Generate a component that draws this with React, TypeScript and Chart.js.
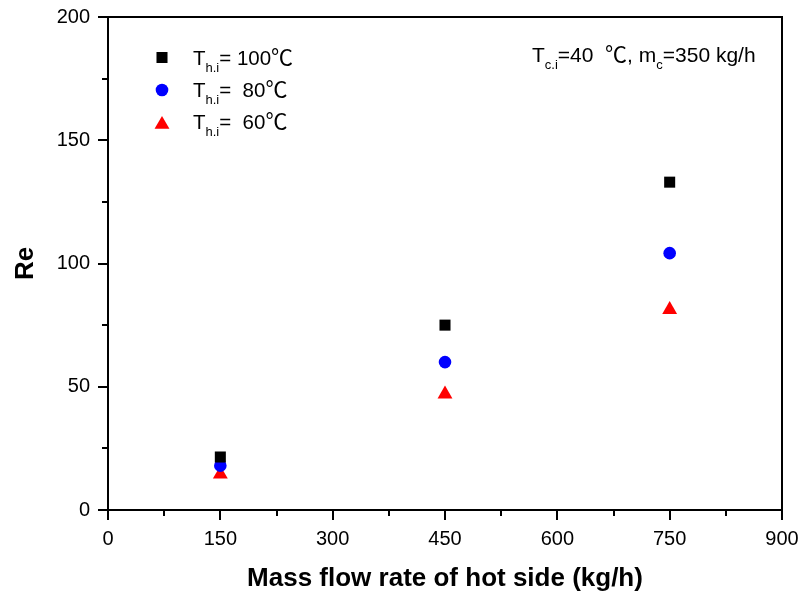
import React, { useEffect, useRef } from 'react';
import { Chart, registerables } from 'chart.js';
import { drawPoint } from 'chart.js/helpers';

Chart.register(...registerables);

// ---- data ----
const flowRates = [150, 450, 750];
const re100 = [21.5, 75, 133];
const re80 = [18, 60, 104.2];
const re60 = [14.5, 47, 81.3];

const seriesLabels = ['100', ' 80', ' 60'];
const xMinorTicks = [75, 225, 375, 525, 675, 825];
const yMinorTicks = [25, 75, 125, 175];

const LATIN = '"Liberation Sans", Arial, Helvetica, sans-serif';
const CJK = '"Noto Sans CJK SC", "DejaVu Sans", sans-serif';

type Part = { t: string; sub?: boolean; cjk?: boolean };

function drawRich(ctx: CanvasRenderingContext2D, x: number, y: number, parts: Part[], size: number, subSize: number, subDy: number, cjkSize: number) {
  let cx = x;
  ctx.textBaseline = 'alphabetic';
  ctx.textAlign = 'left';
  for (const p of parts) {
    const fam = p.cjk ? CJK : LATIN;
    const sz = p.sub ? subSize : p.cjk ? cjkSize : size;
    ctx.font = `${sz}px ${fam}`;
    ctx.fillText(p.t, cx, p.sub ? y + subDy : y);
    cx += ctx.measureText(p.t).width;
  }
}

const decorPlugin = {
  id: 'decor',
  afterDraw(chart: any) {
    const { ctx, chartArea, scales } = chart;
    const { left, right, top, bottom } = chartArea;
    const xs = scales.x;
    const ys = scales.y;
    ctx.save();
    ctx.strokeStyle = '#000';
    ctx.lineWidth = 2;
    ctx.beginPath();
    ctx.moveTo(left - 1, top);
    ctx.lineTo(right, top);
    ctx.lineTo(right, bottom + 1);
    ctx.stroke();

    ctx.beginPath();
    for (const v of xMinorTicks) {
      const px = Math.round(xs.getPixelForValue(v));
      ctx.moveTo(px, bottom);
      ctx.lineTo(px, bottom + 6);
    }
    for (const v of yMinorTicks) {
      const py = Math.round(ys.getPixelForValue(v));
      ctx.moveTo(left, py);
      ctx.lineTo(left - 6, py);
    }
    ctx.stroke();

    // legend
    const ds = chart.data.datasets;
    const rowBase = [65, 97, 129];
    const markerY = [57.5, 90, 124.5];
    for (let i = 0; i < ds.length; i++) {
      const d = ds[i];
      ctx.fillStyle = d.backgroundColor;
      ctx.strokeStyle = d.backgroundColor;
      drawPoint(ctx, { pointStyle: d.pointStyle, radius: d.pointRadius, rotation: 0, borderWidth: 0 } as any, 162, markerY[i]);
      ctx.fillStyle = '#000';
      drawRich(ctx, 193, rowBase[i], [
        { t: 'T' },
        { t: 'h.i', sub: true },
        { t: '= ' + seriesLabels[i] },
        { t: '℃', cjk: true },
      ], 20.5, 13, 7, 22);
    }

    // annotation
    ctx.fillStyle = '#000';
    drawRich(ctx, 532, 61.5, [
      { t: 'T' },
      { t: 'c.i', sub: true },
      { t: '=40  ' },
      { t: '℃', cjk: true },
      { t: ', m' },
      { t: 'c', sub: true },
      { t: '=350 kg/h' },
    ], 21, 13, 7, 22);
    ctx.restore();
  },
};

export default function App() {
  const ref = useRef<HTMLCanvasElement | null>(null);
  useEffect(() => {
    if (!ref.current) return;
    Chart.defaults.font.family = LATIN;
    const mk = (vals: number[]) => vals.map((v, i) => ({ x: flowRates[i], y: v }));
    const chart = new Chart(ref.current, {
      type: 'scatter',
      data: {
        datasets: [
          { label: 'Th.i=100℃', data: mk(re100), pointStyle: 'rect', pointRadius: 7.8, backgroundColor: '#000000', borderColor: '#000000', borderWidth: 0 },
          { label: 'Th.i=80℃', data: mk(re80), pointStyle: 'circle', pointRadius: 6.3, backgroundColor: '#0000ff', borderColor: '#0000ff', borderWidth: 0 },
          { label: 'Th.i=60℃', data: mk(re60), pointStyle: 'triangle', pointRadius: 8.6, backgroundColor: '#ff0000', borderColor: '#ff0000', borderWidth: 0 },
        ] as any,
      },
      options: {
        responsive: false,
        animation: false,
        layout: { padding: { top: 17, right: 22, left: 0, bottom: 0 } },
        plugins: { legend: { display: false }, tooltip: { enabled: false } },
        scales: {
          x: {
            type: 'linear',
            min: 0,
            max: 900,
            ticks: { stepSize: 150, color: '#000', font: { size: 20 }, padding: 7, maxRotation: 0 },
            grid: { drawOnChartArea: false, drawTicks: true, tickLength: 10, color: '#000', lineWidth: 2, tickWidth: 2 },
            border: { display: true, color: '#000', width: 2 },
            title: { display: true, text: 'Mass flow rate of hot side (kg/h)', color: '#000', font: { size: 26, weight: 'bold' }, padding: { top: 0, bottom: 6 } },
            afterFit: (s: any) => { s.height = 90; s.paddingLeft = 0; s.paddingRight = 0; },
          },
          y: {
            type: 'linear',
            min: 0,
            max: 200,
            ticks: { stepSize: 50, color: '#000', font: { size: 20 }, padding: 8 },
            grid: { drawOnChartArea: false, drawTicks: true, tickLength: 10, color: '#000', lineWidth: 2, tickWidth: 2 },
            border: { display: true, color: '#000', width: 2 },
            title: { display: true, text: 'Re', color: '#000', font: { size: 26, weight: 'bold' }, padding: { top: 10, bottom: 0 } },
            afterFit: (s: any) => { s.width = 108; s.paddingTop = 0; s.paddingBottom = 0; },
          },
        },
      } as any,
      plugins: [decorPlugin],
    });
    return () => chart.destroy();
  }, []);
  return (
    <div style={{ position: 'absolute', left: 0, top: 0, width: 804, height: 600, background: '#fff' }}>
      <canvas ref={ref} width={804} height={600} style={{ display: 'block' }} />
    </div>
  );
}
